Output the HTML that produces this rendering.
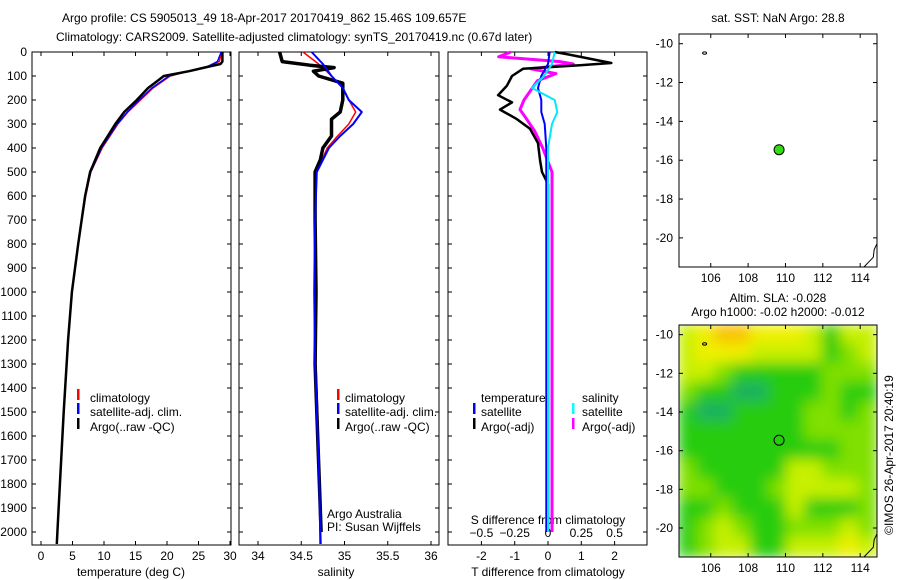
<!DOCTYPE html>
<html><head><meta charset="utf-8"><style>
body{margin:0;background:#fff}
svg{display:block;font-family:"Liberation Sans",sans-serif;font-size:12px}
</style></head><body>
<svg id="fig" width="900" height="580" viewBox="0 0 900 580" xmlns="http://www.w3.org/2000/svg">
<defs>
<filter id="blur" x="0" y="0" width="1" height="1"><feGaussianBlur stdDeviation="7"/></filter>
<clipPath id="mapclip"><rect x="679" y="325" width="198" height="232"/></clipPath>
</defs>
<text x="62" y="22">Argo profile: CS 5905013_49 18-Apr-2017 20170419_862 15.46S 109.657E</text>
<text x="56" y="41">Climatology: CARS2009. Satellite-adjusted climatology: synTS_20170419.nc (0.67d later)</text>
<g id="g"></g>
</svg>
<script>
// ---- data ----
const depthArgo = [0,40,50,60,80,100,130,150,200,250,300,350,400,450,500,600,800,1000,1200,1500,1800,2000,2050];
const tempArgo  = [28.8,28.8,28.5,26.8,23.5,19.5,18.0,17.0,15.2,13.2,11.8,10.6,9.4,8.6,7.8,7.0,5.9,4.9,4.3,3.6,3.0,2.6,2.5];
const depthClim = [0,40,60,80,100,150,200,250,300,400,500,600,800,1000,1200,1500,1800,2000,2050];
const tempClim  = [28.7,28.3,26.5,23.5,20.5,17.8,15.8,13.8,12.2,9.7,7.9,7.1,5.9,4.9,4.3,3.6,3.0,2.6,2.5];
const tempSat   = [28.6,28.0,26.5,23.3,20.3,17.6,15.6,13.7,12.1,9.6,7.9,7.0,5.9,4.9,4.3,3.6,3.0,2.6,2.5];
const depthSalA = [0,40,55,65,80,100,130,200,250,280,350,400,450,500,700,1000,1300,1500,1800,2000];
const salArgo   = [34.25,34.28,34.6,34.88,34.64,34.7,34.98,34.98,34.95,34.85,34.85,34.75,34.72,34.66,34.66,34.67,34.66,34.68,34.71,34.73];
const depthSalC = [0,50,100,150,200,250,300,350,400,500,700,1000,1300,1500,1800,2050];
const salClim   = [34.52,34.7,34.85,34.98,35.05,35.13,35.05,34.92,34.8,34.68,34.66,34.66,34.67,34.69,34.71,34.73];
const salSat    = [34.62,34.75,34.85,34.98,35.05,35.2,35.1,34.95,34.82,34.68,34.66,34.65,34.66,34.68,34.71,34.72];
const depthDiffA = [0,10,46,55,70,100,140,180,210,240,280,320,380,450,500,550,800,1200,1600,2000];
const tDiffArgo  = [0.2,0.6,1.9,0.96,-0.75,-1.08,-1.23,-1.5,-1.08,-1.44,-0.93,-0.54,-0.3,-0.24,-0.18,0,0,0,0,0];
const depthDiffS = [0,20,40,50,70,90,120,160,200,240,280,330,400,500,800,1200,1600,2000];
const sDiffArgo  = [-0.28,-0.37,0.09,0.19,-0.13,0.06,-0.08,-0.13,-0.18,-0.21,-0.16,-0.1,-0.04,0.03,0.03,0.03,0.03,0.03];
const depthDiffSat = [0,50,100,150,200,250,300,400,600,1000,1500,2000];
const tDiffSat   = [0.05,0.0,-0.2,-0.3,-0.2,-0.2,-0.1,-0.05,-0.05,-0.05,-0.05,-0.05];
const sDiffSat   = [0.05,0.03,-0.03,-0.12,0.05,0.07,0.03,0.0,0.0,0.0,0.0,0.0];
const depthTicks = [0,100,200,300,400,500,600,700,800,900,1000,1100,1200,1300,1400,1500,1600,1700,1800,1900,2000];
const tempTicks = [0,5,10,15,20,25,30];
const salTicks = [34,34.5,35,35.5,36];
const tDiffTicks = [-2,-1,0,1,2];
const sDiffTicks = [-0.5,-0.25,0,0.25,0.5];
const lonTicks = [106,108,110,112,114];
const latTicks = [-10,-12,-14,-16,-18,-20];
const slaGrid = [
 [3,4,5,5,4,4,4,3,1,3,3],
 [3,4,4,4,3,3,3,3,1,2,3],
 [3,3,2,1,1,1,1,1,2,2,2],
 [2,1,1,0,0,1,1,1,2,1,1],
 [1,0,0,1,1,1,1,2,2,1,2],
 [1,1,1,1,1,1,1,2,2,2,2],
 [1,1,1,1,1,1,1,1,1,2,2],
 [2,1,1,1,1,1,3,3,2,2,2],
 [2,2,1,1,1,2,3,3,3,3,2],
 [1,1,2,1,1,1,3,1,1,1,2],
 [1,2,3,2,1,1,2,2,2,3,2],
 [1,2,3,3,1,1,3,3,3,4,3]];
const slaColors = ['#1cb060','#28cc10','#80e000','#c8f000','#f0f000','#f8c000'];
const argoLon = 109.657, argoLat = -15.46;

// ---- helpers ----
const NS='http://www.w3.org/2000/svg';
const G=document.getElementById('g');
function el(tag,attrs,txt){const e=document.createElementNS(NS,tag);for(const k in attrs)e.setAttribute(k,attrs[k]);if(txt!==undefined)e.textContent=txt;G.appendChild(e);return e;}
const yD = d => 52 + d*0.24;
const xT = v => 41 + v*6.3;
const xS = v => 258 + (v-34)*86.5;
const xTD = v => 548 + v*33.3;
const xSD = v => 548 + v*133.2;
function line(xs,ds,fx,color,w,name,dash){
  const pts=xs.map((v,i)=>fx(v).toFixed(1)+','+yD(ds[i]).toFixed(1)).join(' ');
  const e=el('polyline',{points:pts,fill:'none',stroke:color,'stroke-width':w,'stroke-linejoin':'round'});
  if(dash)e.setAttribute('stroke-dasharray',dash);
  
  
}
function panel(x0,x1,name,xticks,fx,xlabels,withDepthLabels){
  const r=el('rect',{x:x0,y:52,width:x1-x0,height:493,fill:'none',stroke:'#000','stroke-width':1});
  
  
  depthTicks.forEach(d=>{
    el('line',{x1:x0,x2:x0+4,y1:yD(d),y2:yD(d),stroke:'#000'});
    el('line',{x1:x1-4,x2:x1,y1:yD(d),y2:yD(d),stroke:'#000'});
    if(withDepthLabels){
      const t=el('text',{x:27,y:yD(d)+4,'text-anchor':'end'},String(d));
      
      
    }
  });
  xticks.forEach(v=>{
    el('line',{x1:fx(v),x2:fx(v),y1:545,y2:541,stroke:'#000'});
    el('line',{x1:fx(v),x2:fx(v),y1:52,y2:56,stroke:'#000'});
    if(xlabels){
      const t=el('text',{x:fx(v),y:560,'text-anchor':'middle'},String(v));
      
      
    }
  });
}
function txt(x,y,s,name,anchor){const t=el('text',{x:x,y:y,'text-anchor':anchor||'start'},s);return t;}
function legbar(x,y,c){el('rect',{x:x,y:y-9,width:2.5,height:11,fill:c});}

// Panel 1 temperature
panel(32,231,'temperature-panel',tempTicks,xT,true,true);
line(tempClim,depthClim,xT,'#ff0000',1.5,'temperature-climatology-line');
line(tempSat,depthClim,xT,'#0000ff',1.5,'temperature-satellite-line');
line(tempArgo,depthArgo,xT,'#000',2.5,'temperature-argo-line');
txt(131,576,'temperature (deg C)','temperature-axis-title','middle');
legbar(77,398,'#f00');txt(90,402,'climatology','legend-climatology');
legbar(77,412,'#00f');txt(90,416,'satellite-adj. clim.','legend-satellite');
legbar(77,427,'#000');txt(90,431,'Argo(..raw -QC)','legend-argo');

// Panel 2 salinity
panel(239,439,'salinity-panel',salTicks,xS,true,false);
line(salClim,depthSalC,xS,'#ff0000',1.5,'salinity-climatology-line');
line(salArgo,depthSalA,xS,'#000',3.5,'salinity-argo-line');
line(salSat,depthSalC,xS,'#0000ff',2,'salinity-satellite-line');
txt(336,576,'salinity','salinity-axis-title','middle');
legbar(337,398,'#f00');txt(345,402,'climatology','legend-climatology-2');
legbar(337,412,'#00f');txt(345,416,'satellite-adj. clim.','legend-satellite-2');
legbar(337,427,'#000');txt(345,431,'Argo(..raw -QC)','legend-argo-2');
txt(327,518,'Argo Australia','argo-australia-note');
txt(327,531,'PI: Susan Wijffels','pi-note');

// Panel 3 differences
panel(448,647,'difference-panel',tDiffTicks,xTD,true,false);
sDiffTicks.forEach(v=>{
  const t=el('text',{x:xSD(v),y:537,'text-anchor':'middle'},String(v).replace('-','\u2212'));
  
  
});
txt(548,524,'S difference from climatology','s-diff-axis-title','middle');
txt(548,576,'T difference from climatology','t-diff-axis-title','middle');
line(sDiffArgo,depthDiffS,xSD,'#ff00ff',3,'salinity-diff-argo-line');
line(tDiffArgo,depthDiffA,xTD,'#000',2.5,'temperature-diff-argo-line');
line(tDiffSat,depthDiffSat,xTD,'#0000ff',2,'temperature-diff-satellite-line');
line(sDiffSat,depthDiffSat,xSD,'#00e8ff',2,'salinity-diff-satellite-line');
txt(481,402,'temperature','legend-temperature-header');
txt(582,402,'salinity','legend-salinity-header');
legbar(473,412,'#00f');txt(481,416,'satellite','legend-t-satellite');
legbar(473,427,'#000');txt(481,431,'Argo(-adj)','legend-t-argo');
legbar(572,412,'#0ff');txt(582,416,'satellite','legend-s-satellite');
legbar(572,427,'#f0f');txt(582,431,'Argo(-adj)','legend-s-argo');

// Maps
const lonL=104.3, lonR=114.9, latT=-9.5, latB=-21.5;
function mapFrame(top,bot,name){
  const fx=v=>679+(v-lonL)/(lonR-lonL)*198;
  const fy=v=>top+(v-latT)/(latB-latT)*(bot-top);
  return {fx,fy,top,bot,name};
}
function drawAxes(m){
  const r=el('rect',{x:679,y:m.top,width:198,height:m.bot-m.top,fill:'none',stroke:'#000'});
  
  
  lonTicks.forEach(v=>{
    el('line',{x1:m.fx(v),x2:m.fx(v),y1:m.bot,y2:m.bot-4,stroke:'#000'});
    el('line',{x1:m.fx(v),x2:m.fx(v),y1:m.top,y2:m.top+4,stroke:'#000'});
    txt(m.fx(v),m.bot+15,String(v),m.name+'-lon-label','middle');
  });
  latTicks.forEach(v=>{
    el('line',{x1:679,x2:683,y1:m.fy(v),y2:m.fy(v),stroke:'#000'});
    el('line',{x1:873,x2:877,y1:m.fy(v),y2:m.fy(v),stroke:'#000'});
    txt(673,m.fy(v)+4,String(v),m.name+'-lat-label','end');
  });
  el('polyline',{points:[[114.2,-21.5],[114.5,-21.2],[114.7,-21.0],[114.75,-20.6],[114.9,-20.3]].map(p=>m.fx(p[0])+','+m.fy(p[1])).join(' '),fill:'none',stroke:'#000'});
  el('ellipse',{cx:m.fx(105.67),cy:m.fy(-10.48),rx:2,ry:1.2,fill:'none',stroke:'#000'});
}
const m1=mapFrame(34,267,'sst-map');
txt(778,22,'sat. SST: NaN Argo: 28.8','sst-map-title','middle');
drawAxes(m1);
const c1=el('circle',{cx:m1.fx(argoLon),cy:m1.fy(argoLat),r:5,fill:'#33dd11',stroke:'#000'});



const m2=mapFrame(325,557,'sla-map');
txt(778,302,'Altim. SLA: -0.028','sla-map-title','middle');
txt(778,316,'Argo h1000: -0.02 h2000: -0.012','sla-map-subtitle','middle');
const hg=el('g',{'clip-path':'url(#mapclip)'});
const hb=document.createElementNS(NS,'g');hb.setAttribute('filter','url(#blur)');hg.appendChild(hb);
const cw=198/11, ch=232/12;
slaGrid.forEach((row,ri)=>row.forEach((v,ci)=>{
  const r=document.createElementNS(NS,'rect');
  r.setAttribute('x',679+ci*cw-1);r.setAttribute('y',325+ri*ch-1);
  r.setAttribute('width',cw+2);r.setAttribute('height',ch+2);r.setAttribute('fill',slaColors[v]);
  
  
  hb.appendChild(r);
}));
drawAxes(m2);
const c2=el('circle',{cx:m2.fx(argoLon),cy:m2.fy(argoLat),r:5,fill:'none',stroke:'#000'});


const ts=el('text',{x:893,y:455,'text-anchor':'middle',transform:'rotate(-90 893 455)'},'©IMOS 26-Apr-2017 20:40:19');


</script>
</body></html>
